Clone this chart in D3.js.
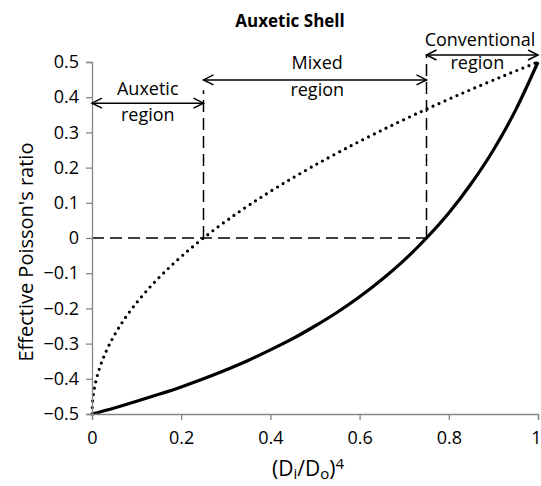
<!DOCTYPE html>
<html>
<head>
<meta charset="utf-8">
<script src="https://cdn.jsdelivr.net/npm/d3@7"></script>
<style>
  body { margin: 0; background: #fff; }
  text { font-family: "Open Sans", "Lato", sans-serif; fill: #000; }
</style>
</head>
<body>
<script>
// values
const xTicks = [0, 0.2, 0.4, 0.6, 0.8, 1];
const yTicks = [-0.5, -0.4, -0.3, -0.2, -0.1, 0, 0.1, 0.2, 0.3, 0.4, 0.5];

// solid curve (shell)
const solidX = [0, 0.05, 0.1, 0.15, 0.2, 0.25, 0.3, 0.35, 0.4, 0.45, 0.5, 0.55, 0.6, 0.65, 0.7, 0.75, 0.8, 0.85, 0.9, 0.95, 1];
const solidY = [-0.5, -0.483, -0.464, -0.444, -0.423, -0.4, -0.375, -0.348, -0.318, -0.286, -0.25, -0.211, -0.167, -0.118, -0.063, 0, 0.071, 0.154, 0.25, 0.364, 0.5];

// dotted curve
const dotX = [0, 0.0025, 0.01, 0.0225, 0.04, 0.0625, 0.09, 0.1225, 0.16, 0.2025, 0.25, 0.3025, 0.36, 0.4225, 0.49, 0.5625, 0.64, 0.7225, 0.81, 0.9025, 1];
const dotY = [-0.5, -0.45, -0.4, -0.35, -0.3, -0.25, -0.2, -0.15, -0.1, -0.05, 0, 0.05, 0.1, 0.15, 0.2, 0.25, 0.3, 0.35, 0.4, 0.45, 0.5];

// region annotation rows
const regions = [
  {from: 0, to: 0.25, y: 0.383},
  {from: 0.25, to: 0.75, y: 0.449},
  {from: 0.75, to: 1, y: 0.52}
];

const margin = {top: 62, right: 3, bottom: 72, left: 92},
  width = 541 - margin.left - margin.right,
  height = 486 - margin.top - margin.bottom;

const root = d3.select("body").append("svg")
  .attr("width", 541)
  .attr("height", 486);

const svg = root.append("g")
  .attr("transform", "translate(" + margin.left + "," + margin.top + ")");

const x = d3.scaleLinear().domain([0, 1]).range([0, width]);
const y = d3.scaleLinear().domain([-0.5, 0.5]).range([height, 0]);

// dashed guide lines
svg.append("line")
  .attr("x1", x(0)).attr("x2", x(0.75))
  .attr("y1", y(0)).attr("y2", y(0))
  .attr("stroke", "#000").attr("stroke-width", 1.5)
  .attr("stroke-dasharray", "12,6");
svg.append("line")
  .attr("x1", x(0.25)).attr("x2", x(0.25))
  .attr("y1", y(0)).attr("y2", y(0.42))
  .attr("stroke", "#000").attr("stroke-width", 1.5)
  .attr("stroke-dasharray", "12,6");
svg.append("line")
  .attr("x1", x(0.75)).attr("x2", x(0.75))
  .attr("y1", y(0)).attr("y2", y(0.52))
  .attr("stroke", "#000").attr("stroke-width", 1.5)
  .attr("stroke-dasharray", "12,6");

// curves
const solid = solidX.map((d, i) => [d, solidY[i]]);
const dotted = dotX.map((d, i) => [d, dotY[i]]);

const line = d3.line()
  .x(d => x(d[0]))
  .y(d => y(d[1]))
  .curve(d3.curveMonotoneY);

svg.append("path")
  .datum(dotted)
  .attr("fill", "none")
  .attr("stroke", "#000")
  .attr("stroke-width", 3.2)
  .attr("stroke-linecap", "round")
  .attr("stroke-dasharray", "0,6.5")
  .attr("d", line);

svg.append("path")
  .datum(solid)
  .attr("fill", "none")
  .attr("stroke", "#000")
  .attr("stroke-width", 3.2)
  .attr("d", line.curve(d3.curveMonotoneX));

// axes
const xAxis = svg.append("g")
  .attr("transform", "translate(0," + height + ")")
  .call(d3.axisBottom(x).tickValues(xTicks).tickSize(6).tickPadding(11).tickFormat(d3.format("")));
const yAxis = svg.append("g")
  .call(d3.axisLeft(y).tickValues(yTicks).tickSize(6).tickPadding(7).tickFormat(d3.format("")));

[xAxis, yAxis].forEach(a => {
  a.select(".domain").attr("stroke", "#868686").attr("stroke-width", 1.3);
  a.selectAll(".tick line").attr("stroke", "#868686").attr("stroke-width", 1.3);
  a.selectAll(".tick text")
    .style("font-family", "'Open Sans', sans-serif")
    .style("font-size", "18px")
    .attr("fill", "#000");
});
// keep the last x label inside the window
xAxis.selectAll(".tick text").filter(d => d === 1).attr("dx", "-2");

// region arrows
const head = 10, half = 5;
regions.forEach(r => {
  const x1 = x(r.from), x2 = x(r.to), yy = y(r.y);
  svg.append("line")
    .attr("x1", x1).attr("x2", x2).attr("y1", yy).attr("y2", yy)
    .attr("stroke", "#000").attr("stroke-width", 1.5);
  svg.append("path")
    .attr("d", `M${x1 + head},${yy - half}L${x1},${yy}L${x1 + head},${yy + half}`)
    .attr("fill", "none").attr("stroke", "#000").attr("stroke-width", 1.5);
  svg.append("path")
    .attr("d", `M${x2 - head},${yy - half}L${x2},${yy}L${x2 - head},${yy + half}`)
    .attr("fill", "none").attr("stroke", "#000").attr("stroke-width", 1.5);
});

// region labels
const labels = [
  {t: "Auxetic", cx: 0.125, cy: 0.424},
  {t: "region", cx: 0.125, cy: 0.35},
  {t: "Mixed", cx: 0.505, cy: 0.497},
  {t: "region", cx: 0.505, cy: 0.42},
  {t: "Conventional", cx: 0.87, cy: 0.562},
  {t: "region", cx: 0.864, cy: 0.497}
];
svg.selectAll(".rlab")
  .data(labels)
  .enter().append("text")
  .attr("class", "rlab")
  .attr("x", d => x(d.cx))
  .attr("y", d => y(d.cy))
  .attr("dy", "0.35em")
  .attr("text-anchor", "middle")
  .style("font-size", "18px")
  .text(d => d.t);

// title
root.append("text")
  .attr("x", 290)
  .attr("y", 27)
  .attr("text-anchor", "middle")
  .style("font-size", "17px")
  .style("font-weight", "bold")
  .text("Auxetic Shell");

// y axis title
root.append("text")
  .attr("transform", "translate(33," + (margin.top + y(-0.04)) + ") rotate(-90)")
  .attr("text-anchor", "middle")
  .style("font-size", "20px")
  .text("Effective Poisson's ratio");

// x axis title
const xt = root.append("text")
  .attr("x", 308)
  .attr("y", 476)
  .attr("text-anchor", "middle")
  .style("font-size", "21px");
xt.append("tspan").text("(D");
xt.append("tspan").attr("baseline-shift", "-20%").style("font-size", "15px").text("i");
xt.append("tspan").text("/D");
xt.append("tspan").attr("baseline-shift", "-20%").style("font-size", "15px").text("o");
xt.append("tspan").text(")");
xt.append("tspan").attr("baseline-shift", "45%").style("font-size", "15px").text("4");
</script>
</body>
</html>
